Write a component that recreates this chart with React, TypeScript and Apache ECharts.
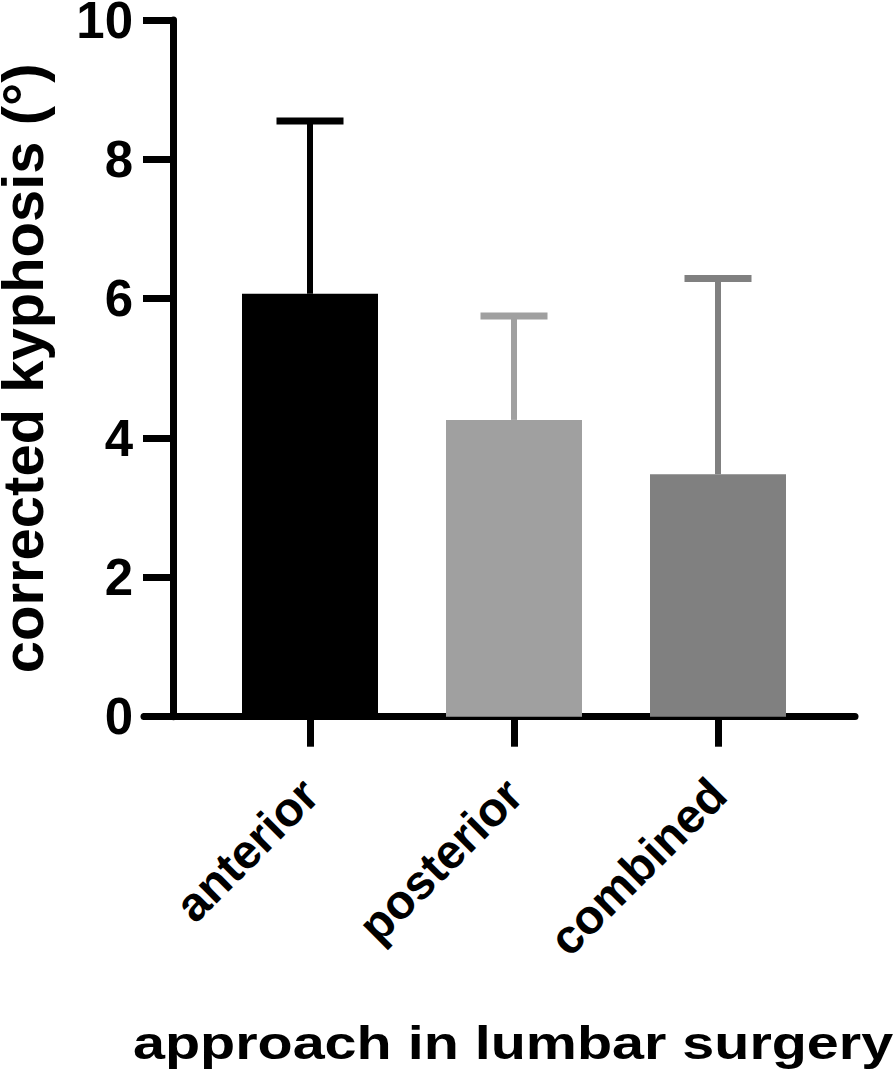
import React, { useEffect, useRef } from "react";
import * as echarts from "echarts";

const categories = ["anterior", "posterior", "combined"];
const categoryPositions = [1, 2, 3];
const means = [6.07, 4.26, 3.48];
const sds = [2.48, 1.49, 2.81];
const barColors = ["#000000", "#a0a0a0", "#808080"];
const yTicks = [0, 2, 4, 6, 8, 10];
const yTitle = "corrected kyphosis (°)";
const xTitle = "approach in lumbar surgery";

export default function App() {
  const ref = useRef<HTMLDivElement>(null);
  useEffect(() => {
    if (!ref.current) return;
    const chart = echarts.init(ref.current, null, { renderer: "svg" });
    const font = "Liberation Sans, Arial, Helvetica, sans-serif";
    const barData = categoryPositions.map((x, i) => ({
      value: [x, means[i]],
      itemStyle: { color: barColors[i] },
    }));
    const errData = categoryPositions.map((x, i) => [x, means[i], means[i] + sds[i]]);
    chart.setOption({
      animation: false,
      backgroundColor: "#ffffff",
      grid: {
        left: 144,
        right: 39,
        top: 20,
        bottom: 362.3,
        containLabel: false,
        outerBoundsMode: "none",
      },
      xAxis: {
        type: "value",
        min: 0.18627,
        max: 3.67157,
        splitLine: { show: false },
        axisLine: { show: true, onZero: false, lineStyle: { color: "#000", width: 7 } },
        axisTick: {
          show: true,
          customValues: categoryPositions,
          length: 30,
          lineStyle: { color: "#000", width: 7 },
        },
        axisLabel: {
          show: true,
          customValues: categoryPositions,
          formatter: (v: number) => categories[Math.round(v) - 1] ?? "",
          rotate: 45,
          align: "right",
          verticalAlign: "middle",
          margin: 70,
          fontFamily: font,
          fontWeight: "bold",
          fontSize: 48,
          color: "#000",
        },
      },
      yAxis: {
        type: "value",
        min: 0,
        max: 10,
        interval: 2,
        offset: -29,
        splitLine: { show: false },
        axisLine: { show: true, lineStyle: { color: "#000", width: 7 } },
        axisTick: { show: true, length: 30, lineStyle: { color: "#000", width: 7 } },
        axisLabel: {
          margin: 40,
          fontFamily: font,
          fontWeight: "bold",
          fontSize: 51,
          color: "#000",
          formatter: (v: number) => (yTicks.includes(v) ? String(v) : ""),
        },
        name: yTitle,
        nameLocation: "middle",
        nameGap: 122,
        nameTextStyle: {
          fontFamily: font,
          fontWeight: "bold",
          fontSize: 58,
          color: "#000",
        },
      },
      graphic: [
        {
          type: "text",
          x: 133,
          y: 1043,
          scaleX: 1.25,
          scaleY: 1,
          style: {
            text: xTitle,
            font: `bold 46px ${font}`,
            fill: "#000",
            align: "left",
            verticalAlign: "middle",
          },
        },
      ],
      series: [
        {
          type: "custom",
          z: 1,
          data: errData,
          renderItem: (params: any, api: any) => {
            const x = api.value(0);
            const base = api.coord([x, api.value(1)]);
            const top = api.coord([x, api.value(2)]);
            const color = barColors[params.dataIndex];
            return {
              type: "group",
              children: [
                {
                  type: "line",
                  shape: { x1: base[0], y1: base[1], x2: top[0], y2: top[1] },
                  style: { stroke: color, lineWidth: 6 },
                },
                {
                  type: "line",
                  shape: { x1: top[0] - 33.5, y1: top[1], x2: top[0] + 33.5, y2: top[1] },
                  style: { stroke: color, lineWidth: 7 },
                },
              ],
            };
          },
        },
        {
          type: "bar",
          z: 2,
          barWidth: 136,
          data: barData,
        },
      ],
    });
    return () => chart.dispose();
  }, []);
  return (
    <div
      ref={ref}
      style={{ position: "fixed", left: 0, top: 0, width: 894, height: 1079, background: "#fff" }}
    />
  );
}
